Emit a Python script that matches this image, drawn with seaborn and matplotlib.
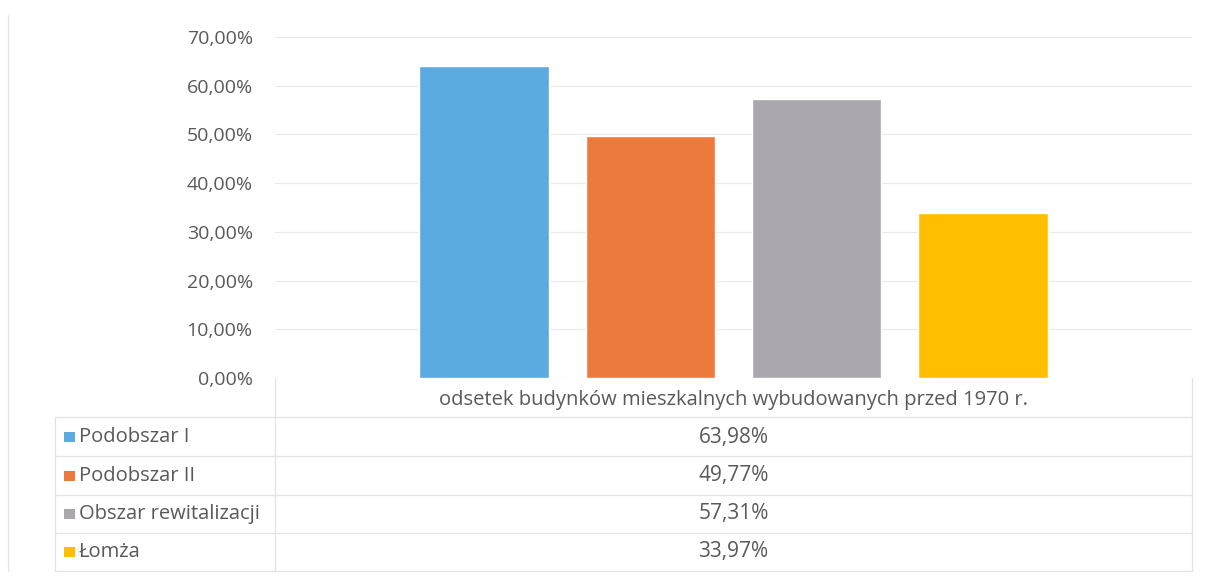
import matplotlib
matplotlib.use("Agg")
import matplotlib.pyplot as plt
import seaborn as sns
import pandas as pd

# data
category = "odsetek budynków mieszkalnych wybudowanych przed 1970 r."
series = ["Podobszar I", "Podobszar II", "Obszar rewitalizacji", "Łomża"]
values = [63.98, 49.77, 57.31, 33.97]
colors = ["#5babe0", "#ec7a3c", "#aba7ae", "#ffbf00"]
yticks = [0, 10, 20, 30, 40, 50, 60, 70]

sns.set_theme(style="white")
plt.rcParams["font.family"] = ["Open Sans", "DejaVu Sans"]
text_col = "#595959"
grid_col = "#ebebeb"

df = pd.DataFrame({"cat": [category] * len(series), "seria": series, "val": values})

W, H = 1205, 576
fig = plt.figure(figsize=(W / 100, H / 100), dpi=100)

# main bar area (pixel box converted to figure fractions)
left, right, top, bottom = 275, 1192, 37, 378
ax = fig.add_axes([left / W, 1 - bottom / H, (right - left) / W, (bottom - top) / H])
sns.barplot(data=df, x="cat", y="val", hue="seria", palette=colors,
            width=0.725, gap=0.22, legend=False, ax=ax, saturation=1)
ax.set_ylim(0, 70)
ax.set_xlim(-0.5, 0.5)
ax.set_yticks(yticks)
ax.set_yticklabels([f"{t:.2f}".replace(".", ",") + "%" for t in yticks],
                   fontsize=14, color=text_col)
ax.tick_params(axis="y", length=0, pad=16)
ax.set_xticks([])
ax.set_xlabel("")
ax.set_ylabel("")
for t in yticks:
    ax.axhline(t, color=grid_col, lw=0.9, zorder=0)
for s in ax.spines.values():
    s.set_visible(False)

# data table drawn in pixel coordinates
tab = fig.add_axes([0, 0, 1, 1])
tab.set_xlim(0, W)
tab.set_ylim(H, 0)
tab.axis("off")
line_col = "#e3e3e3"
tab.text((left + right) / 2, 400, category, ha="center", va="center",
         fontsize=14.5, color=text_col)
row_y = [437, 476, 514, 552]
row_lines = [417, 456, 495, 533, 571]
for y in row_lines:
    tab.plot([55, right], [y, y], color=line_col, lw=0.9)
tab.plot([left, left], [378, 571], color=line_col, lw=0.9)
tab.plot([right, right], [378, 571], color=line_col, lw=0.9)
tab.plot([55, 55], [417, 571], color=line_col, lw=0.9)
tab.plot([8, 8], [15, 571], color="#e6e6e6", lw=0.9)
for name, val, col, y in zip(series, values, colors, row_y):
    tab.scatter([69.5], [y], marker="s", s=60, color=col, edgecolor="none")
    tab.text(79, y, name, ha="left", va="center", fontsize=14.5, color=text_col)
    tab.text((left + right) / 2, y, f"{val:.2f}".replace(".", ",") + "%",
             ha="center", va="center", fontsize=15, color=text_col)

fig.savefig("out.png", dpi=100)
